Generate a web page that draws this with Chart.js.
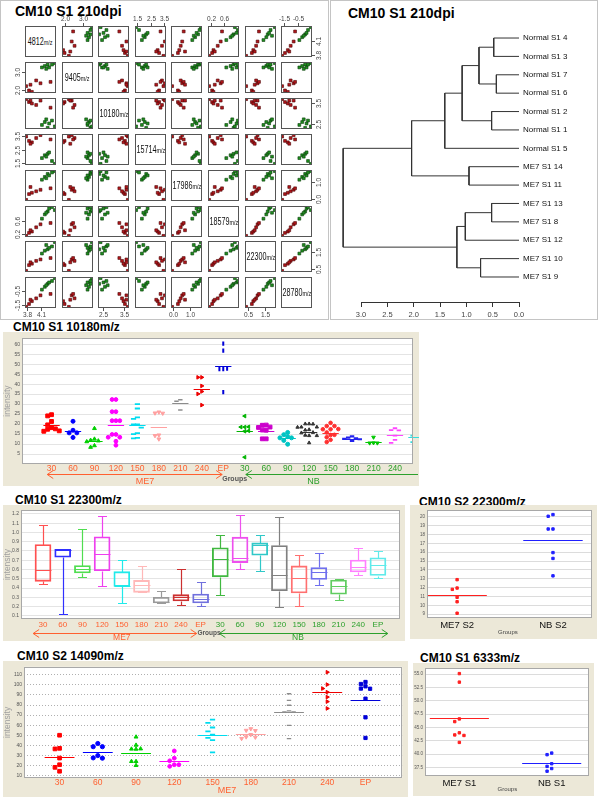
<!DOCTYPE html>
<html>
<head>
<meta charset="utf-8">
<title>CM10 peaks</title>
<script src="https://cdn.jsdelivr.net/npm/chart.js@4.4.1/dist/chart.umd.min.js"></script>
<style>
  body { margin: 0; width: 600px; height: 798px; position: relative; overflow: hidden; background: #fff; font-family: Arial, "Liberation Sans", sans-serif; }
  canvas { position: absolute; }
  .panel { position: absolute; border: 1px solid #c4c4c4; box-sizing: border-box; }
  .title { position: absolute; font-weight: bold; font-size: 12px; line-height: 12px; white-space: nowrap; color: #000; }
  .title.big { font-size: 14px; line-height: 14px; }
  .diag { position: absolute; width: 31px; height: 31px; box-sizing: border-box; border: 1px solid #555; display: flex; align-items: center; justify-content: center; white-space: nowrap; color: #111; }
  .diag b { font-weight: normal; font-size: 10px; display: inline-block; transform: scaleX(0.72); }
  .diag b span { font-size: 7.5px; }
</style>
</head>
<body>
<div class="panel" style="left:0;top:0;width:329px;height:320px"></div>
<div class="panel" style="left:330px;top:0;width:268px;height:320px"></div>
<div class="title big" style="left:15px;top:4px">CM10 S1 210dpi</div>
<div class="title big" style="left:348px;top:6px">CM10 S1 210dpi</div>
<div class="title" style="left:13px;top:321px">CM10 S1 10180m/z</div>
<div class="title" style="left:15px;top:494px">CM10 S1 22300m/z</div>
<div class="title" style="left:419px;top:496px">CM10 S2 22300m/z</div>
<div class="title" style="left:17px;top:650px">CM10 S2 14090m/z</div>
<div class="title" style="left:420px;top:652px">CM10 S1 6333m/z</div>
<script>
Chart.defaults.font.family = 'Arial, "Liberation Sans", sans-serif';
Chart.defaults.animation = false;
Chart.defaults.responsive = false;
Chart.defaults.plugins.legend.display = false;
Chart.defaults.plugins.tooltip.enabled = false;

const SANS = 'Arial, "Liberation Sans", sans-serif';

// ---------------- data: scatter matrix (samples 1-7 ME7, 8-14 normal) ----------------
const mzPeaks = ['4812', '9405', '10180', '15714', '17986', '18579', '22300', '28780'];
const i4812  = [3.79, 3.85, 3.91, 4.00, 4.09, 4.30, 3.88, 4.12, 4.18, 4.24, 4.27, 4.33, 4.39, 4.21];
const i9405  = [2.21, 1.97, 1.89, 2.53, 2.37, 2.45, 2.29, 3.26, 3.34, 3.42, 3.26, 3.42, 3.50, 3.18];
const i10180 = [3.69, 3.55, 3.48, 3.41, 3.62, 3.28, 3.62, 2.45, 2.59, 2.31, 2.52, 2.66, 2.38, 2.72];
const i15714 = [3.49, 3.16, 3.05, 3.38, 3.60, 3.27, 2.94, 1.84, 2.06, 2.17, 2.28, 1.62, 1.40, 1.95];
const i17986 = [-0.07, 0.28, 0.36, 0.45, 0.54, 0.63, 0.71, 1.15, 1.32, 1.50, 1.41, 1.59, 1.67, 1.24];
const i18579 = [0.14, 0.23, 0.27, 0.40, 0.49, 0.53, 0.31, 0.66, 0.79, 0.88, 0.97, 1.01, 0.92, 0.84];
const i22300 = [0.42, 0.74, 0.82, 0.98, 1.06, 1.14, 0.90, 1.39, 1.55, 1.63, 1.71, 1.79, 2.03, 1.87];
const i28780 = [-1.61, -1.41, -1.21, -1.01, -0.80, -0.70, -1.11, -0.40, -0.20, 0.01, 0.11, 0.21, 0.41, -0.09];
const pairTicks = [[3.8, 4.1], [2.0, 3.0], [2.5, 3.5], [1.5, 2.5, 3.5], [0.0, 1.0], [0.2, 0.6], [0.5, 1.5], [-1.5, -0.5]];

// ---------------- data: dendrogram ----------------
const dendroLeaves = ['Normal S1 4', 'Normal S1 3', 'Normal S1 7', 'Normal S1 6', 'Normal S1 2', 'Normal S1 1', 'Normal S1 5',
  'ME7 S1 14', 'ME7 S1 11', 'ME7 S1 13', 'ME7 S1 8', 'ME7 S1 12', 'ME7 S1 10', 'ME7 S1 9'];
// negative = leaf (1-based), positive = earlier merge step
const mergeA = [-1, -3, -5, -10, -13, 1, -8, 4, 6, 8, 9, 11, 12];
const mergeB = [-2, -4, -6, -11, -14, 2, -9, -12, 3, 5, -7, 7, 10];
const mergeHeight = [0.48, 0.43, 0.52, 0.52, 0.73, 0.76, 0.95, 1.02, 1.08, 1.18, 1.41, 2.04, 3.34];
const dendroTicks = [0, 0.5, 1.0, 1.5, 2.0, 2.5, 3.0];

// ---------------- data: CM10 S1 10180m/z ----------------
const groupsTime = ['30', '60', '90', '120', '150', '180', '210', '240', 'EP', '30', '60', '90', '120', '150', '180', '210', '240', 'EP'];
const v10180 = [
  [24.7, 24.1, 21.3, 19.6, 18.2, 17.4, 17.6, 16.4, 16.6],
  [21.4, 16.9, 15.6, 15.6, 13.3],
  [17.8, 12.5, 11.9, 11.6, 11.2, 9.2, 8.4],
  [32.3, 32.3, 26.2, 26.2, 21.7, 21.7, 21.7, 14.8, 14.8, 13.4, 13.4, 11.4, 9.4],
  [30.0, 27.8, 23.3, 22.6, 19.8, 19.8, 18.2, 15.5, 15.0, 13.1, 12.8],
  [26.0, 25.5, 25.4, 14.5, 14.2, 12.5],
  [32.2, 31.4, 27.0],
  [43.4, 43.4, 39.1, 36.3, 35.1, 29.5],
  [60.3, 56.8, 47.6, 47.6, 47.8, 36.0],
  [24.0, 18.5, 18.5, 18.6, 16.6, 16.4, 3.4],
  [19.5, 19.4, 18.5, 18.3, 16.9, 17.0, 12.6, 12.6],
  [15.8, 14.7, 13.7, 13.1, 13.1, 11.8, 9.9],
  [20.1, 20.1, 20.0, 18.5, 18.5, 18.4, 17.2, 17.0, 15.8, 15.6, 14.2, 14.4, 14.2, 10.6],
  [20.6, 19.0, 19.0, 17.4, 17.4, 17.5, 15.8, 14.5, 14.6, 13.4, 12.1, 11.0],
  [13.8, 13.2, 12.8, 12.6, 12.4, 11.6],
  [13.4, 10.6, 10.5, 10.5],
  [17.9, 17.0, 16.8, 14.2, 12.1, 10.6],
  [15.5, 14.2, 12.8, 11.0]
];
const mean10180 = [19.3, 16.6, 11.5, 19.3, 19.5, 18.5, 30.5, 37.8, 49.0, 16.6, 16.6, 13.1, 15.8, 15.3, 12.6, 11.0, 14.7, 13.6];
const yTicks10180 = [5, 10, 15, 20, 25, 30, 35, 40, 45, 50, 55, 60];

// ---------------- data: CM10 S1 22300m/z (box plot) ----------------
const boxLow    = [0.440, 0.117, 0.517, 0.420, 0.242, 0.353, 0.239, 0.218, 0.211, 0.326, 0.608, 0.587, 0.197, 0.211, 0.430, 0.274, 0.545, 0.503];
const boxQ1     = [0.472, 0.733, 0.563, 0.587, 0.417, 0.353, 0.239, 0.260, 0.239, 0.521, 0.674, 0.754, 0.371, 0.347, 0.493, 0.333, 0.573, 0.535];
const boxMedian = [0.597, 0.813, 0.608, 0.765, 0.427, 0.430, 0.246, 0.308, 0.277, 0.712, 0.726, 0.859, 0.545, 0.510, 0.570, 0.427, 0.632, 0.650];
const boxQ3     = [0.869, 0.817, 0.643, 0.953, 0.577, 0.483, 0.301, 0.329, 0.336, 0.834, 0.949, 0.887, 0.859, 0.639, 0.622, 0.486, 0.702, 0.726];
const boxHigh   = [1.078, 0.824, 1.033, 1.179, 0.698, 0.643, 0.371, 0.608, 0.465, 0.973, 1.183, 0.973, 1.165, 0.754, 0.775, 0.493, 0.834, 0.803];
const yTicksBox = [0.1, 0.2, 0.3, 0.4, 0.5, 0.6, 0.7, 0.8, 0.9, 1.0, 1.1, 1.2];

// ---------------- data: CM10 S2 22300m/z ----------------
const groupsS2 = ['ME7 S2', 'NB S2'];
const vS2 = [[12.9, 11.95, 11.8, 10.9, 10.4, 9.1], [20.26, 20.07, 18.63, 18.63, 15.96, 15.3, 13.33]];
const meanS2 = [11.2, 17.4];
const yTicksS2 = [9, 10, 11, 12, 13, 14, 15, 16, 17, 18, 19, 20];

// ---------------- data: CM10 S2 14090m/z ----------------
const groups14090 = ['30', '60', '90', '120', '150', '180', '210', '240', 'EP'];
const v14090 = [
  [50.0, 37.0, 36.4, 27.3, 20.7, 18.1, 14.2],
  [41.8, 38.6, 38.6, 29.8, 27.5, 27.2],
  [48.3, 40.2, 36.3, 36.5, 36.2, 24.0, 24.0, 20.0],
  [34.4, 27.2, 24.6, 20.7, 20.7, 19.1],
  [65.5, 62.3, 57.7, 53.8, 50.6, 47.3, 45.1, 33.0],
  [56.4, 54.8, 54.6, 50.6, 48.3, 48.0, 46.7],
  [91.2, 84.7, 79.8, 74.3, 73.3, 73.1, 59.7, 46.7],
  [112.6, 100.3, 96.4, 92.8, 87.9, 83.4, 76.6],
  [102.9, 100.9, 98.6, 96.4, 96.2, 86.3, 67.8, 47.3]
];
const mean14090 = [28.8, 33.7, 32.7, 24.0, 50.6, 50.9, 72.7, 92.8, 85.0];
const yTicks14090 = [10, 20, 30, 40, 50, 60, 70, 80, 90, 100, 110];

// ---------------- data: CM10 S1 6333m/z ----------------
const groups6333 = ['ME7 S1', 'NB S1'];
const v6333 = [[55.1, 53.5, 46.6, 46.1, 44.0, 43.6, 43.5, 42.2], [40.2, 39.9, 38.2, 37.7, 37.3, 36.8]];
const mean6333 = [46.8, 38.4];
const yTicks6333 = [37.5, 40.0, 42.5, 45.0, 47.5, 50.0, 52.5, 55.0];

// ---------------- styles ----------------
const ME7_COL = '#ff6030', NB_COL = '#2ca02c';
const style10180 = [
  {shape: 'rect', color: '#ff0000', r: 2.7},
  {shape: 'circle', color: '#0000ff', r: 2.0},
  {shape: 'triangle', color: '#00d000', r: 2.2},
  {shape: 'circle', color: '#ff00ff', r: 1.9},
  {shape: 'line', color: '#00dcef', r: 2.6, bw: 1.8},
  {shape: 'triangle', rot: 180, color: '#ffa0a0', r: 2.2},
  {shape: 'line', color: '#8c8c8c', r: 2.2, bw: 1.5},
  {shape: 'triangle', rot: 90, color: '#ee0000', r: 2.1},
  {shape: 'line', rot: 90, color: '#0000d8', r: 2.2, bw: 2},
  {shape: 'triangle', rot: -90, color: '#00b400', r: 2.1},
  {shape: 'rect', color: '#cc00cc', r: 2.7},
  {shape: 'circle', color: '#00c4c4', r: 2.0},
  {shape: 'triangle', color: '#333333', r: 1.9},
  {shape: 'circle', color: '#ff3030', r: 1.8},
  {shape: 'line', color: '#2222ee', r: 2.2, bw: 2.2},
  {shape: 'triangle', rot: 180, color: '#00c800', r: 2.1},
  {shape: 'line', color: '#ff44ff', r: 2.2, bw: 1.8},
  {shape: 'line', color: '#33dede', r: 2.2, bw: 1.8}
];
const style14090 = [
  {shape: 'rect', color: '#ff0000', r: 2.6},
  {shape: 'circle', color: '#0000ff', r: 2.1},
  {shape: 'triangle', color: '#00d000', r: 2.2},
  {shape: 'circle', color: '#ff00ff', r: 1.9},
  {shape: 'line', color: '#00dcef', r: 2.6, bw: 1.8},
  {shape: 'triangle', rot: 180, color: '#ffa0a0', r: 2.2},
  {shape: 'line', color: '#8c8c8c', r: 2.2, bw: 1.3},
  {shape: 'triangle', rot: 90, color: '#ee0000', r: 2.1},
  {shape: 'rect', color: '#0000d8', r: 2.3}
];
const boxColors = ['#ff5050', '#3030ff', '#50dd50', '#ee40ee', '#20eaea', '#ffb8b8', '#9a9a9a', '#cc3030', '#7070dd',
  '#40b840', '#ee50ee', '#30c8c8', '#808080', '#ff7070', '#7070ee', '#60cc60', '#ff80ff', '#60eaea'];

// ---------------- helpers & plugins ----------------
function addCanvas(left, top, w, h) {
  const c = document.createElement('canvas');
  c.width = w; c.height = h;
  c.style.left = left + 'px'; c.style.top = top + 'px';
  document.body.appendChild(c);
  return c;
}

// spread points of one group sideways where they would overlap
function swarm(vals, center, yTol, step) {
  const placed = [];
  return vals.map(v => {
    for (let k = 0; k < 30; k++) {
      const off = (k % 2 ? -1 : 1) * Math.ceil(k / 2) * step;
      const px = center + off;
      if (!placed.some(p => Math.abs(p.y - v) < yTol && Math.abs(p.x - px) < step * 0.9)) {
        placed.push({x: px, y: v});
        return {x: px, y: v};
      }
    }
    return {x: center, y: v};
  });
}

const pairsAxes = {
  id: 'pairsAxes',
  afterDraw(chart, args, o) {
    const {ctx, chartArea: a, scales: {x, y}} = chart;
    ctx.save();
    ctx.strokeStyle = '#555'; ctx.lineWidth = 1;
    ctx.strokeRect(Math.round(a.left) + 0.5, Math.round(a.top) + 0.5, Math.round(a.width) - 1, Math.round(a.height) - 1);
    ctx.fillStyle = '#444'; ctx.font = '6.5px ' + SANS;
    o.sides.forEach(side => {
      const horiz = side === 'top' || side === 'bottom';
      (horiz ? o.xTicks : o.yTicks).forEach(t => {
        ctx.beginPath();
        if (horiz) {
          const px = Math.round(x.getPixelForValue(t)) + 0.5;
          const y0 = side === 'top' ? a.top : a.bottom, dir = side === 'top' ? -1 : 1;
          ctx.moveTo(px, y0); ctx.lineTo(px, y0 + dir * 3); ctx.stroke();
          ctx.textAlign = 'center'; ctx.textBaseline = side === 'top' ? 'bottom' : 'top';
          ctx.fillText(t.toFixed(1), px, y0 + dir * 4);
        } else {
          const py = Math.round(y.getPixelForValue(t)) + 0.5;
          const x0 = side === 'left' ? a.left : a.right, dir = side === 'left' ? -1 : 1;
          ctx.moveTo(x0, py); ctx.lineTo(x0 + dir * 3, py); ctx.stroke();
          ctx.save();
          ctx.translate(x0 + dir * 4, py); ctx.rotate(-Math.PI / 2);
          ctx.textAlign = 'center'; ctx.textBaseline = side === 'left' ? 'bottom' : 'top';
          ctx.fillText(t.toFixed(1), 0, 0);
          ctx.restore();
        }
      });
    });
    ctx.restore();
  }
};

const framePlugin = {
  id: 'frame',
  beforeDraw(chart) {
    const {ctx, chartArea: a, width, height} = chart;
    ctx.save();
    ctx.fillStyle = '#ece8d8'; ctx.fillRect(0, 0, width, height);
    ctx.fillStyle = '#ffffff'; ctx.fillRect(a.left, a.top, a.width, a.height);
    ctx.restore();
  },
  afterDraw(chart) {
    const {ctx, chartArea: a} = chart;
    ctx.save();
    ctx.strokeStyle = '#a8a8a8'; ctx.lineWidth = 1;
    ctx.strokeRect(Math.round(a.left) + 0.5, Math.round(a.top) + 0.5, Math.round(a.width) - 1, Math.round(a.height) - 1);
    ctx.restore();
  }
};

const meanLines = {
  id: 'meanLines',
  beforeDatasetsDraw(chart, args, o) {
    const {ctx, scales: {x, y}} = chart;
    ctx.save();
    ctx.lineWidth = 1;
    chart.data.datasets.forEach((ds, g) => {
      if (ds.mean == null) return;
      const py = Math.round(y.getPixelForValue(ds.mean)) + 0.5;
      ctx.strokeStyle = ds.meanColor;
      ctx.beginPath();
      ctx.moveTo(x.getPixelForValue(g - o.half), py);
      ctx.lineTo(x.getPixelForValue(g + o.half), py);
      ctx.stroke();
    });
    ctx.restore();
  }
};

const groupArrows = {
  id: 'groupArrows',
  afterDraw(chart, args, o) {
    const {ctx, chartArea: a, scales: {x}} = chart;
    ctx.save();
    (o.items || []).forEach(it => {
      ctx.strokeStyle = it.color; ctx.fillStyle = it.color; ctx.lineWidth = 1;
      if (it.from != null) {
        const yy = Math.round(a.bottom + o.lineY) + 0.5;
        const x1 = x.getPixelForValue(it.from), xEnd = x.getPixelForValue(it.to);
        const x2 = Math.min(xEnd, chart.width - 1);
        ctx.beginPath();
        ctx.moveTo(x1, yy); ctx.lineTo(x2, yy);
        ctx.moveTo(x1 + 6, yy - 4); ctx.lineTo(x1, yy); ctx.lineTo(x1 + 6, yy + 4);
        if (xEnd < chart.width - 1) { ctx.moveTo(x2 - 6, yy - 4); ctx.lineTo(x2, yy); ctx.lineTo(x2 - 6, yy + 4); }
        ctx.stroke();
      }
      ctx.font = o.font; ctx.textAlign = 'center'; ctx.textBaseline = 'middle';
      ctx.fillText(it.label, x.getPixelForValue(it.labelAt), a.bottom + o.labelY);
    });
    if (o.caption) {
      ctx.fillStyle = o.caption.color; ctx.font = o.caption.font;
      ctx.textAlign = 'center'; ctx.textBaseline = 'middle';
      ctx.fillText('Groups', x.getPixelForValue(o.caption.at), a.bottom + o.caption.y);
    }
    ctx.restore();
  }
};

const boxWhiskers = {
  id: 'boxWhiskers',
  afterDatasetsDraw(chart, args, o) {
    const {ctx, scales: {x, y}} = chart;
    ctx.save();
    ctx.lineWidth = 1.2;
    boxMedian.forEach((m, i) => {
      const px = Math.round(x.getPixelForValue(i)) + 0.5;
      const py = v => Math.round(y.getPixelForValue(v)) + 0.5;
      ctx.strokeStyle = boxColors[i];
      ctx.beginPath();
      ctx.moveTo(px, py(boxQ3[i])); ctx.lineTo(px, py(boxHigh[i]));
      ctx.moveTo(px - o.cap, py(boxHigh[i])); ctx.lineTo(px + o.cap, py(boxHigh[i]));
      ctx.moveTo(px, py(boxQ1[i])); ctx.lineTo(px, py(boxLow[i]));
      ctx.moveTo(px - o.cap, py(boxLow[i])); ctx.lineTo(px + o.cap, py(boxLow[i]));
      ctx.moveTo(px - o.half, py(m)); ctx.lineTo(px + o.half, py(m));
      ctx.stroke();
    });
    ctx.restore();
  }
};

const dendroAxis = {
  id: 'dendroAxis',
  afterDraw(chart) {
    const {ctx, chartArea: a, scales: {x}} = chart;
    const yy = Math.round(a.bottom) + 0.5;
    ctx.save();
    ctx.strokeStyle = '#333'; ctx.lineWidth = 1;
    ctx.beginPath();
    ctx.moveTo(x.getPixelForValue(0), yy); ctx.lineTo(x.getPixelForValue(3), yy);
    ctx.stroke();
    ctx.restore();
  }
};

// ---------------- scatter matrix ----------------
const pairVars = [i4812, i9405, i10180, i15714, i17986, i18579, i22300, i28780];

function pairCell(i, j) {
  const M = 16, S = 31;
  const left = Math.round(25 + j * 36.6), top = Math.round(26 + i * 35.9);
  if (i === j) {
    const dv = document.createElement('div');
    dv.className = 'diag';
    dv.style.left = left + 'px'; dv.style.top = top + 'px';
    dv.innerHTML = '<b>' + mzPeaks[i] + '<span>m/z</span></b>';
    document.body.appendChild(dv);
    return;
  }
  const sides = [];
  if (i === 0 && j % 2 === 1) sides.push('top');
  if (i === 7 && j % 2 === 0) sides.push('bottom');
  if (j === 0 && i % 2 === 1) sides.push('left');
  if (j === 7 && i % 2 === 0) sides.push('right');
  const xs = pairVars[j], ys = pairVars[i];
  const rng = v => {
    const lo = Math.min(...v), hi = Math.max(...v), p = (hi - lo) * 0.04;
    return [lo - p, hi + p];
  };
  const [xMin, xMax] = rng(xs), [yMin, yMax] = rng(ys);
  new Chart(addCanvas(left - M, top - M, S + 2 * M, S + 2 * M), {
    type: 'scatter',
    data: {
      datasets: [
        {data: xs.slice(0, 7).map((v, k) => ({x: v, y: ys[k]})), backgroundColor: '#b3161b', borderColor: '#4a0505'},
        {data: xs.slice(7).map((v, k) => ({x: v, y: ys[k + 7]})), backgroundColor: '#1f8f1f', borderColor: '#0a3a0a'}
      ]
    },
    options: {
      layout: {padding: M},
      elements: {point: {pointStyle: 'rect', radius: 2.0, borderWidth: 0.6}},
      scales: {
        x: {display: false, min: xMin, max: xMax},
        y: {display: false, min: yMin, max: yMax}
      },
      plugins: {pairsAxes: {sides, xTicks: pairTicks[j], yTicks: pairTicks[i]}}
    },
    plugins: [pairsAxes]
  });
}
for (let i = 0; i < 8; i++) for (let j = 0; j < 8; j++) pairCell(i, j);

// ---------------- dendrogram ----------------
const mergeNode = [];
const nodePos = k => (k < 0 ? {x: 0, y: -k - 1} : mergeNode[k - 1]);
const dendroSets = mergeHeight.map((h, m) => {
  const a = nodePos(mergeA[m]), b = nodePos(mergeB[m]);
  mergeNode.push({x: h, y: (a.y + b.y) / 2});
  return {
    data: [{x: a.x, y: a.y}, {x: h, y: a.y}, {x: h, y: b.y}, {x: b.x, y: b.y}],
    showLine: true, borderColor: '#333', borderWidth: 1, pointRadius: 0, tension: 0
  };
});
new Chart(addCanvas(330, 0, 268, 320), {
  type: 'scatter',
  data: {datasets: dendroSets},
  options: {
    layout: {padding: {left: 10, top: 20, right: 0, bottom: 0}},
    scales: {
      x: {
        type: 'linear', reverse: true, min: 0, max: 3.4,
        afterBuildTicks: s => { s.ticks = dendroTicks.map(v => ({value: v})); },
        afterFit: s => { s.height = 18; },
        grid: {drawOnChartArea: false, drawTicks: true, tickLength: 5, color: '#333'},
        border: {display: false},
        ticks: {font: {size: 7.5}, color: '#444', padding: 3, maxRotation: 0, callback: v => v.toFixed(1)}
      },
      y: {
        type: 'linear', position: 'right', reverse: true, min: -0.98, max: 14.36,
        afterBuildTicks: s => { s.ticks = dendroLeaves.map((_, k) => ({value: k})); },
        afterFit: s => { s.width = 79; },
        grid: {display: false, drawTicks: false},
        border: {display: false},
        ticks: {font: {size: 8}, color: '#111', padding: 4, callback: v => dendroLeaves[v]}
      }
    }
  },
  plugins: [dendroAxis]
});

// ---------------- group charts ----------------
function groupChart(frame, plot, d) {
  const canvas = addCanvas(frame.l, frame.t, frame.r - frame.l, frame.b - frame.t);
  const inRange = v => v >= d.xMin && v <= d.xMax;
  const scales = {
    x: {
      type: 'linear', min: d.xMin, max: d.xMax, offset: false,
      afterBuildTicks: s => { s.ticks = d.groups.map((_, k) => ({value: k})).filter(t => inRange(t.value)); },
      afterFit: s => { s.height = frame.b - plot.b; },
      grid: {display: false, drawTicks: false},
      border: {display: false},
      ticks: {autoSkip: false, maxRotation: 0, font: d.xFont, padding: d.xPad,
        color: c => d.xColors[c.index], callback: v => d.groups[v]}
    },
    y: {
      type: 'linear', min: d.yMin, max: d.yMax,
      afterBuildTicks: s => { s.ticks = d.yTicks.map(v => ({value: v})); },
      afterFit: s => { s.width = plot.l - frame.l; },
      grid: {color: d.gridColor, drawTicks: false},
      border: {display: false, dash: d.gridDash || []},
      ticks: {font: d.yFont, color: '#555', padding: 2, callback: d.yFmt || (v => v)},
      title: {display: !!d.yTitle, text: 'intensity', color: '#a0a0a0', font: {size: 8.5}, padding: 0}
    }
  };
  const options = {
    layout: {padding: {top: plot.t - frame.t, right: frame.r - plot.r, left: 0, bottom: 0}},
    scales,
    plugins: {groupArrows: d.arrows || {}, meanLines: {half: d.half || 0.38}, boxWhiskers: {cap: 4.5, half: 8}}
  };
  let config;
  if (d.box) {
    config = {
      type: 'bar',
      data: {datasets: [{
        data: boxQ1.map((q, k) => ({x: k, y: [q, boxQ3[k]]})),
        backgroundColor: 'rgba(255,255,255,0)', borderColor: boxColors, borderWidth: 1.2,
        borderSkipped: false, barThickness: 16
      }]},
      options, plugins: [framePlugin, boxWhiskers, groupArrows]
    };
  } else {
    config = {
      type: 'scatter',
      data: {datasets: d.values.map((vals, g) => {
        const st = d.styles[g];
        return {
          data: swarm(vals, g, d.yTol, d.step),
          pointStyle: st.shape, rotation: st.rot || 0, pointRadius: st.r,
          backgroundColor: st.color, borderColor: st.color, borderWidth: st.bw || 1,
          mean: d.means[g], meanColor: st.color
        };
      })},
      options, plugins: [framePlugin, meanLines, groupArrows]
    };
  }
  return new Chart(canvas, config);
}

const me7Colors = groupsTime.map((_, k) => (k < 9 ? ME7_COL : NB_COL));

// CM10 S1 10180m/z
groupChart({l: 3, t: 332, r: 419, b: 486}, {l: 22, t: 334, r: 419, b: 464}, {
  groups: groupsTime, values: v10180, means: mean10180, styles: style10180,
  xMin: -1.376, xMax: 16.83, yMin: 0, yMax: 63, yTicks: yTicks10180,
  xFont: {size: 8.5}, xPad: 0, xColors: me7Colors,
  yFont: {size: 5}, gridColor: '#e4e4e4', yTitle: true,
  yTol: 2.0, step: 0.18, half: 0.38,
  arrows: {
    lineY: 10, labelY: 18, font: '9px ' + SANS,
    items: [
      {from: -0.2, to: 7.95, labelAt: 4.36, label: 'ME7', color: ME7_COL},
      {from: 9.05, to: 18, labelAt: 12.2, label: 'NB', color: NB_COL}
    ],
    caption: {at: 8.53, y: 15, font: 'bold 7px ' + SANS, color: '#555'}
  }
});

// CM10 S1 22300m/z (box plot)
groupChart({l: 3, t: 505, r: 405, b: 641}, {l: 21, t: 507, r: 400, b: 619}, {
  box: true, groups: groupsTime,
  xMin: -1.117, xMax: 18.12, yMin: 0.066, yMax: 1.242, yTicks: yTicksBox, yFmt: v => v.toFixed(1),
  xFont: {size: 8}, xPad: 1, xColors: me7Colors,
  yFont: {size: 5}, gridColor: '#e4e4e4', yTitle: true,
  arrows: {
    lineY: 14, labelY: 18.5, font: '8.5px ' + SANS,
    items: [
      {from: -0.5, to: 7.8, labelAt: 4.0, label: 'ME7', color: ME7_COL},
      {from: 8.95, to: 17.5, labelAt: 12.94, label: 'NB', color: NB_COL}
    ],
    caption: {at: 8.43, y: 14, font: 'bold 6.5px ' + SANS, color: '#555'}
  }
});

// CM10 S2 22300m/z
groupChart({l: 410, t: 505, r: 597, b: 639}, {l: 427, t: 508, r: 594, b: 618}, {
  groups: groupsS2, values: vS2, means: meanS2,
  styles: [{shape: 'rect', color: '#ff2020', r: 1.7}, {shape: 'rect', color: '#2020ff', r: 1.7}],
  xMin: -0.314, xMax: 1.407, yMin: 8.56, yMax: 20.78, yTicks: yTicksS2,
  xFont: {size: 9.5}, xPad: 2, xColors: ['#111', '#111'],
  yFont: {size: 4.5}, gridColor: '#dcdcdc',
  yTol: 0.5, step: 0.05, half: 0.31,
  arrows: {caption: {at: 0.53, y: 14, font: '6px ' + SANS, color: '#444'}}
});

// CM10 S2 14090m/z
groupChart({l: 3, t: 661, r: 408, b: 797}, {l: 24, t: 665, r: 406, b: 778}, {
  groups: groups14090, values: v14090, means: mean14090, styles: style14090,
  xMin: -0.93, xMax: 8.96, yMin: 7.5, yMax: 118, yTicks: yTicks14090,
  xFont: {size: 8.5}, xPad: 0, xColors: groups14090.map(() => ME7_COL),
  yFont: {size: 5}, gridColor: '#b0b0b0', gridDash: [1, 2], yTitle: true,
  yTol: 4.0, step: 0.12, half: 0.39,
  arrows: {labelY: 12.7, font: '9px ' + SANS, items: [{labelAt: 4.38, label: 'ME7', color: ME7_COL}]}
});

// CM10 S1 6333m/z
groupChart({l: 413, t: 663, r: 594, b: 796}, {l: 425, t: 665, r: 592, b: 776}, {
  groups: groups6333, values: v6333, means: mean6333,
  styles: [{shape: 'rect', color: '#ff2020', r: 1.7}, {shape: 'rect', color: '#2020ff', r: 1.7}],
  xMin: -0.372, xMax: 1.404, yMin: 35.9, yMax: 56.15, yTicks: yTicks6333, yFmt: v => v.toFixed(1),
  xFont: {size: 9.5}, xPad: 2, xColors: ['#111', '#111'],
  yFont: {size: 4.5}, gridColor: '#dcdcdc',
  yTol: 0.7, step: 0.05, half: 0.32,
  arrows: {caption: {at: 0.52, y: 13.7, font: '6px ' + SANS, color: '#444'}}
});
</script>
</body>
</html>
